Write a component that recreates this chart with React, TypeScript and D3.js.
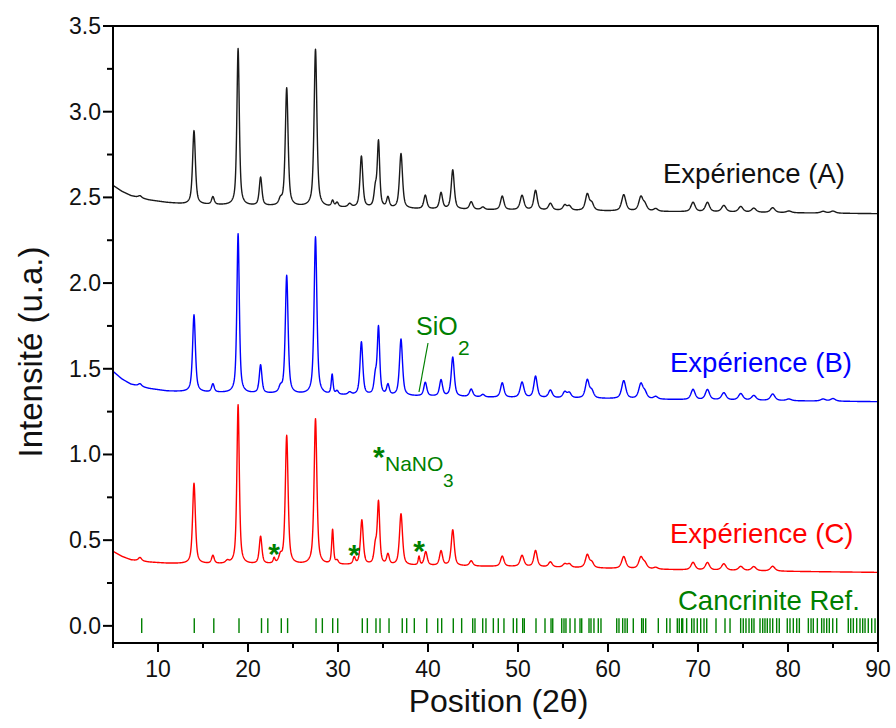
import React from "react";
import * as d3 from "d3";

const W = 896;
const H = 728;

// Axis definitions
const xDomain: [number, number] = [5, 90];
const yDomain: [number, number] = [-0.1, 3.5];
const xMajorTicks = [10, 20, 30, 40, 50, 60, 70, 80, 90];
const xMinorTicks = [5, 15, 25, 35, 45, 55, 65, 75, 85];
const yMajorTicks = [0, 0.5, 1.0, 1.5, 2.0, 2.5, 3.0, 3.5];
const yMinorTicks = [0.25, 0.75, 1.25, 1.75, 2.25, 2.75, 3.25];
const xTitle = "Position (2θ)";
const yTitle = "Intensité (u.a.)";

// Backgrounds [2θ, intensity]
const baseA: [number, number][] = [
  [5, 2.57], [6, 2.535], [7, 2.51], [9, 2.485], [11, 2.47], [13, 2.46], [20, 2.45],
  [30, 2.44], [40, 2.43], [50, 2.425], [60, 2.42], [70, 2.415], [80, 2.41], [90, 2.405],
];
const baseB: [number, number][] = [
  [5, 1.485], [6, 1.44], [7, 1.41], [9, 1.385], [11, 1.37], [13, 1.365], [20, 1.355],
  [30, 1.345], [40, 1.338], [50, 1.33], [60, 1.325], [70, 1.318], [80, 1.313], [90, 1.308],
];
const baseC: [number, number][] = [
  [5, 0.435], [6, 0.405], [7, 0.385], [9, 0.372], [11, 0.365], [13, 0.362], [20, 0.358],
  [30, 0.355], [40, 0.35], [50, 0.345], [60, 0.335], [70, 0.325], [80, 0.318], [90, 0.312],
];

// Peaks [2θ, height above background, FWHM]
const peaksA: [number, number, number][] = [
  [8.0, 0.012, 0.45], [14.0, 0.43, 0.37], [16.1, 0.045, 0.35], [18.9, 0.915, 0.32],
  [21.4, 0.165, 0.35], [23.6, 0.03, 0.4], [24.3, 0.69, 0.37], [27.5, 0.92, 0.37],
  [29.4, 0.035, 0.3], [29.9, 0.025, 0.35], [31.3, 0.02, 0.45], [32.6, 0.3, 0.37],
  [34.15, 0.1, 0.35], [34.5, 0.38, 0.32], [35.55, 0.06, 0.35], [37.0, 0.32, 0.4],
  [39.7, 0.08, 0.4], [41.45, 0.095, 0.4], [42.75, 0.23, 0.4], [44.8, 0.045, 0.45],
  [46.1, 0.015, 0.45], [48.25, 0.08, 0.45], [50.45, 0.085, 0.5], [51.95, 0.115, 0.45],
  [53.6, 0.04, 0.5], [55.2, 0.03, 0.5], [55.7, 0.025, 0.5], [57.7, 0.095, 0.5],
  [58.2, 0.04, 0.5], [61.75, 0.095, 0.55], [63.65, 0.08, 0.55], [64.1, 0.035, 0.55],
  [65.3, 0.015, 0.55], [69.45, 0.055, 0.55], [71.05, 0.055, 0.55], [72.87, 0.038, 0.6],
  [74.75, 0.033, 0.6], [76.2, 0.024, 0.6], [78.3, 0.028, 0.6], [80.1, 0.01, 0.65],
  [83.9, 0.01, 0.65], [85.0, 0.012, 0.65],
];
const peaksB: [number, number, number][] = [
  [8.0, 0.015, 0.45], [14.0, 0.45, 0.37], [16.1, 0.048, 0.35], [18.9, 0.93, 0.32],
  [21.4, 0.165, 0.35], [23.6, 0.03, 0.4], [24.3, 0.69, 0.37], [27.5, 0.92, 0.37],
  [29.35, 0.115, 0.24], [29.9, 0.02, 0.35], [31.3, 0.015, 0.45], [32.6, 0.31, 0.37],
  [34.15, 0.1, 0.35], [34.5, 0.39, 0.32], [35.55, 0.06, 0.35], [37.0, 0.33, 0.4],
  [39.7, 0.08, 0.4], [41.45, 0.095, 0.4], [42.75, 0.23, 0.4], [44.8, 0.045, 0.45],
  [46.1, 0.015, 0.45], [48.25, 0.085, 0.45], [50.45, 0.09, 0.5], [51.95, 0.125, 0.45],
  [53.6, 0.045, 0.5], [55.2, 0.035, 0.5], [55.7, 0.03, 0.5], [57.7, 0.105, 0.5],
  [58.2, 0.04, 0.5], [61.75, 0.105, 0.55], [63.65, 0.085, 0.55], [64.1, 0.035, 0.55],
  [65.3, 0.015, 0.55], [69.45, 0.06, 0.55], [71.05, 0.06, 0.55], [72.87, 0.042, 0.6],
  [74.75, 0.038, 0.6], [76.2, 0.028, 0.6], [78.3, 0.038, 0.6], [80.1, 0.01, 0.65],
  [83.9, 0.012, 0.65], [85.0, 0.015, 0.65],
];
const peaksC: [number, number, number][] = [
  [8.0, 0.02, 0.45], [14.0, 0.47, 0.37], [16.1, 0.047, 0.35], [17.7, 0.015, 0.45],
  [18.9, 0.93, 0.32], [21.4, 0.16, 0.35], [22.9, 0.03, 0.24], [23.6, 0.04, 0.4],
  [24.3, 0.75, 0.37], [27.5, 0.85, 0.37], [29.4, 0.2, 0.24], [29.9, 0.02, 0.35],
  [31.8, 0.04, 0.3], [32.65, 0.26, 0.37], [34.15, 0.1, 0.35], [34.5, 0.36, 0.32],
  [35.55, 0.06, 0.35], [37.0, 0.3, 0.4], [39.0, 0.05, 0.22], [39.75, 0.08, 0.4],
  [41.45, 0.085, 0.4], [42.75, 0.21, 0.4], [44.8, 0.03, 0.45], [48.25, 0.06, 0.45],
  [50.45, 0.065, 0.5], [51.95, 0.095, 0.45], [53.6, 0.03, 0.5], [55.2, 0.02, 0.5],
  [55.7, 0.02, 0.5], [57.7, 0.075, 0.5], [58.2, 0.03, 0.5], [61.75, 0.07, 0.55],
  [63.65, 0.065, 0.55], [64.1, 0.03, 0.55], [65.3, 0.01, 0.55], [69.45, 0.044, 0.55],
  [71.05, 0.044, 0.55], [72.87, 0.038, 0.6], [74.75, 0.024, 0.6], [76.2, 0.024, 0.6],
  [78.3, 0.028, 0.6],
];

// Cancrinite reference reflections (2θ)
const refPeaks = [
  8.19, 14.03, 16.2, 19.0, 21.5, 22.2, 23.7, 24.4,
  27.56, 28.26, 29.41, 29.97, 32.7, 33.26, 34.22, 34.67, 35.67, 37.14, 37.63, 38.48,
  39.86, 41.08, 41.52, 42.81, 43.74, 44.97, 45.22, 46.08, 46.44, 47.26,
  47.81, 48.44, 49.48, 49.86, 50.52, 50.7, 52.0, 53.0, 53.67, 53.86, 54.86, 55.11,
  55.33, 55.78, 56.33, 56.89, 57.08, 57.89, 58.11, 58.44, 58.92, 59.22, 60.97, 61.22,
  61.63, 61.89, 62.14, 62.81, 63.74, 63.92, 64.19, 65.59, 66.52, 66.89, 67.7, 67.92,
  68.19, 68.3, 68.74, 69.3, 69.56, 69.92, 70.3, 70.67, 70.97, 72.0, 73.0, 73.56,
  74.74, 75.03, 75.33, 75.67, 75.97, 76.22, 76.89, 77.19, 77.44, 77.7, 78.0, 78.3,
  78.74, 79.03, 79.92, 80.22, 80.59, 80.97, 81.26, 82.26, 82.56, 82.81, 83.26, 83.74,
  84.0, 84.3, 84.59, 84.97, 85.41, 86.7, 86.97, 87.26, 87.63, 88.0, 88.3, 88.56,
  88.92, 89.3, 89.67, 89.97,
];

// NaNO3 markers [2θ, intensity]
const nano3Marks: [number, number][] = [[22.9, 0.46], [31.8, 0.455], [39.0, 0.475]];

const seriesNames = ["Expérience (A)", "Expérience (B)", "Expérience (C)"];
const refName = "Cancrinite Ref.";

const GREEN = "#008000";

function profile(base: [number, number][], peaks: [number, number, number][]) {
  const bl = d3.scaleLinear().domain(base.map((d) => d[0])).range(base.map((d) => d[1]));
  const grid = d3.range(xDomain[0], xDomain[1] + 1e-9, 0.025);
  const eta = 0.65;
  return grid.map((x) => {
    let y = bl(x);
    for (const [p, h, w] of peaks) {
      const t = (x - p) / (w / 2);
      const t2 = t * t;
      y += h * (eta / (1 + t2) + (1 - eta) * Math.exp(-Math.LN2 * t2));
    }
    return [x, y] as [number, number];
  });
}

export default function App() {
  const x = d3.scaleLinear().domain(xDomain).range([113, 878]);
  const y = d3.scaleLinear().domain(yDomain).range([643, 26]);
  const line = d3
    .line<[number, number]>()
    .x((d) => x(d[0]))
    .y((d) => y(d[1]));

  const dA = line(profile(baseA, peaksA)) || "";
  const dB = line(profile(baseB, peaksB)) || "";
  const dC = line(profile(baseC, peaksC)) || "";

  const font = "Arial, 'Liberation Sans', Helvetica, sans-serif";
  const [x0, x1] = x.range();
  const [yb, yt] = y.range();

  return (
    <svg
      width={W}
      height={H}
      style={{ position: "absolute", left: 0, top: 0, background: "#fff" }}
      fontFamily={font}
    >
      <defs>
        <clipPath id="plotClip">
          <rect x={x0} y={yt} width={x1 - x0} height={yb - yt} />
        </clipPath>
      </defs>
      <rect x={0} y={0} width={W} height={H} fill="#fff" />

      <g clipPath="url(#plotClip)">
        {refPeaks.map((p, i) => (
          <line key={i} x1={x(p)} x2={x(p)} y1={y(-0.042)} y2={y(0.045)} stroke={GREEN} strokeWidth={1.4} />
        ))}
        <path d={dC} fill="none" stroke="#ff0000" strokeWidth={1.4} strokeLinejoin="round" />
        <path d={dB} fill="none" stroke="#0000ff" strokeWidth={1.4} strokeLinejoin="round" />
        <path d={dA} fill="none" stroke="#1a1a1a" strokeWidth={1.4} strokeLinejoin="round" />
      </g>

      {/* frame */}
      <rect x={x0} y={yt} width={x1 - x0} height={yb - yt} fill="none" stroke="#000" strokeWidth={2} />

      {/* x ticks */}
      {xMajorTicks.map((t) => (
        <g key={"xm" + t}>
          <line x1={x(t)} x2={x(t)} y1={yb} y2={yb + 9} stroke="#000" strokeWidth={2} />
          <text x={x(t)} y={yb + 34} fontSize={23} textAnchor="middle" fill="#111">
            {t}
          </text>
        </g>
      ))}
      {xMinorTicks.map((t) => (
        <line key={"xn" + t} x1={x(t)} x2={x(t)} y1={yb} y2={yb + 5} stroke="#000" strokeWidth={2} />
      ))}

      {/* y ticks */}
      {yMajorTicks.map((t) => (
        <g key={"ym" + t}>
          <line x1={x0 - 10} x2={x0} y1={y(t)} y2={y(t)} stroke="#000" strokeWidth={2} />
          <text x={x0 - 12} y={y(t) + 8} fontSize={23} textAnchor="end" fill="#111">
            {t.toFixed(1)}
          </text>
        </g>
      ))}
      {yMinorTicks.map((t) => (
        <line key={"yn" + t} x1={x0 - 6} x2={x0} y1={y(t)} y2={y(t)} stroke="#000" strokeWidth={2} />
      ))}

      {/* axis titles */}
      <text x={(x0 + x1) / 2 + 3} y={712} fontSize={32} textAnchor="middle" fill="#111">
        {xTitle}
      </text>
      <text
        transform={`translate(42, 352) rotate(-90)`}
        fontSize={33}
        textAnchor="middle"
        fill="#111"
      >
        {yTitle}
      </text>

      {/* series labels */}
      <text x={663} y={183} fontSize={27.5} fill="#111">{seriesNames[0]}</text>
      <text x={670} y={372} fontSize={27.5} fill="#0000ff">{seriesNames[1]}</text>
      <text x={670} y={543} fontSize={27.5} fill="#ff0000">{seriesNames[2]}</text>
      <text x={678} y={610} fontSize={27.5} fill={GREEN}>{refName}</text>

      {/* SiO2 annotation */}
      <text x={416} y={335} fontSize={25} fill={GREEN}>SiO</text>
      <text x={458} y={355} fontSize={21} fill={GREEN}>2</text>
      <line x1={428} y1={343} x2={419} y2={392} stroke={GREEN} strokeWidth={1.2} />

      {/* NaNO3 annotation */}
      <text x={373} y={467} fontSize={30} fontWeight="bold" fill={GREEN}>*</text>
      <text x={385} y={471} fontSize={21} fill={GREEN}>NaNO</text>
      <text x={443} y={487} fontSize={19} fill={GREEN}>3</text>

      {nano3Marks.map(([p, v], i) => (
        <text key={i} x={x(p)} y={y(v) + 17} fontSize={30} fontWeight="bold" textAnchor="middle" fill={GREEN}>
          *
        </text>
      ))}
    </svg>
  );
}
